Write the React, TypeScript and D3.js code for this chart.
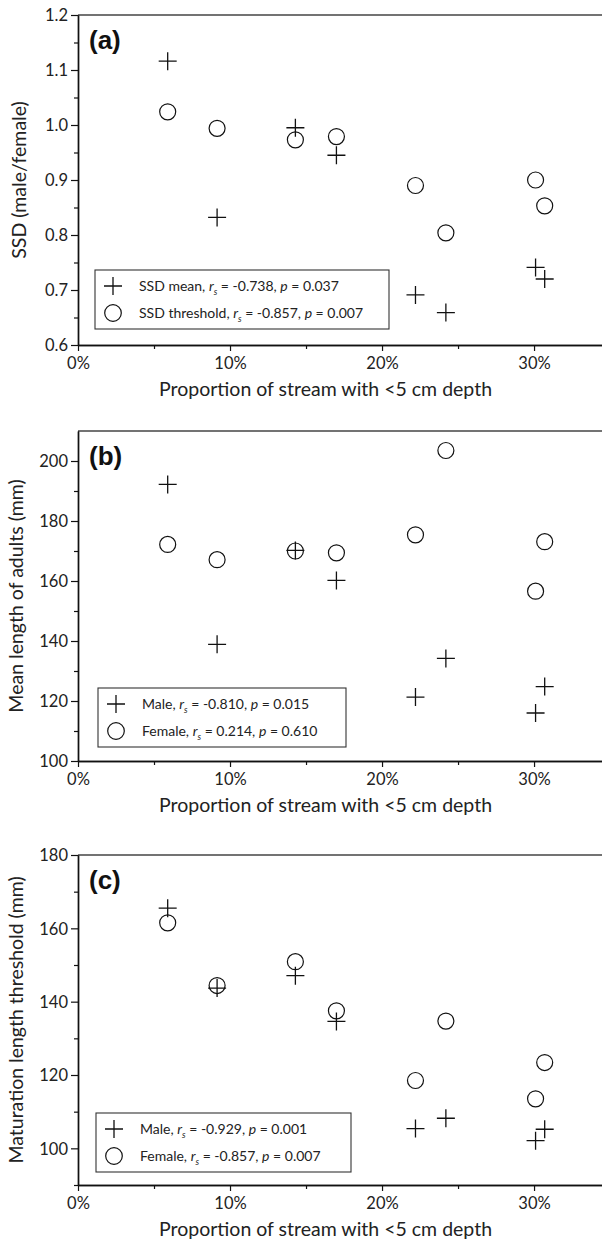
import React, { useEffect, useRef } from 'react'
import * as d3 from 'd3'

// proportion of stream with <5 cm depth (%), one per site
const depthPct = [5.9, 9.15, 14.3, 17.0, 22.2, 24.2, 30.1, 30.7]

// (a) sexual size dimorphism
const ssdMean = [1.116, 0.832, 0.995, 0.945, 0.691, 0.659, 0.741, 0.72]
const ssdThreshold = [1.024, 0.994, 0.973, 0.979, 0.89, 0.804, 0.9, 0.853]

// (b) mean length of adults (mm)
const maleMeanLength = [192.2, 138.9, 170.2, 160.2, 121.3, 134.2, 116.0, 124.8]
const femaleMeanLength = [172.2, 167.1, 170.0, 169.4, 175.4, 203.5, 156.6, 173.1]

// (c) maturation length threshold (mm)
const maleThreshold = [165.5, 143.7, 147.1, 134.6, 105.4, 108.2, 102.1, 105.2]
const femaleThreshold = [161.5, 144.4, 150.9, 137.5, 118.5, 134.7, 113.5, 123.4]

const xTicks = [0, 10, 20, 30]
const xMinorTicks = [5, 15, 25]

const panelLetters = ['(a)', '(b)', '(c)']
const yTitles = ['SSD (male/female)', 'Mean length of adults (mm)', 'Maturation length threshold (mm)']
const yDomains: [number, number][] = [[0.6, 1.2], [100, 210], [90, 180]]
const yTicks = [
  [0.6, 0.7, 0.8, 0.9, 1.0, 1.1, 1.2],
  [100, 120, 140, 160, 180, 200],
  [100, 120, 140, 160, 180],
]
const yMinorTicks = [
  [0.65, 0.75, 0.85, 0.95, 1.05, 1.15],
  [110, 130, 150, 170, 190],
  [90, 110, 130, 150, 170],
]
const yFormats = [d3.format('.1f'), d3.format('d'), d3.format('d')]

const legendNames = [
  ['SSD mean', 'SSD threshold'],
  ['Male', 'Female'],
  ['Male', 'Female'],
]
const legendRs = [
  ['-0.738', '-0.857'],
  ['-0.810', '0.214'],
  ['-0.929', '-0.857'],
]
const legendP = [
  ['0.037', '0.007'],
  ['0.015', '0.610'],
  ['0.001', '0.007'],
]

const plusSeries = [ssdMean, maleMeanLength, maleThreshold]
const circleSeries = [ssdThreshold, femaleMeanLength, femaleThreshold]

const W = 602
const H = 1245
const font = 'Lato, "Open Sans", sans-serif'

export default function App() {
  const ref = useRef<SVGSVGElement>(null)

  useEffect(() => {
    const svg = d3.select(ref.current)
    svg.selectAll('*').remove()

    const left = 78
    const plotH = 330
    const tops = [15, 431, 855]
    // legend boxes: [x, offset from panel top, width]
    const legendBoxes = [
      [95, 255, 294],
      [98, 257, 248],
      [96, 258, 255],
    ]

    const x = d3.scaleLinear().domain([0, 34.47]).range([left, W])

    tops.forEach((top, i) => {
      const g = svg.append('g')
      const bottom = top + plotH
      const y = d3.scaleLinear().domain(yDomains[i]).range([bottom, top])

      // top frame line
      g.append('line')
        .attr('x1', left).attr('x2', W)
        .attr('y1', top).attr('y2', top)
        .attr('stroke', '#444').attr('stroke-width', 1.4)

      // minor ticks first
      g.append('g')
        .attr('transform', `translate(${left},0)`)
        .call(d3.axisLeft(y).tickValues(yMinorTicks[i]).tickSize(4).tickSizeOuter(0).tickFormat(() => ''))
      g.append('g')
        .attr('transform', `translate(0,${bottom})`)
        .call(d3.axisBottom(x).tickValues(xMinorTicks).tickSize(4).tickSizeOuter(0).tickFormat(() => ''))

      // major axes
      const ya = g.append('g')
        .attr('transform', `translate(${left},0)`)
        .call(d3.axisLeft(y).tickValues(yTicks[i]).tickSize(7).tickSizeOuter(0).tickFormat(d => yFormats[i](d as number)))
      ya.selectAll('text').attr('x', -10).attr('dy', '0.36em')
      const xa = g.append('g')
        .attr('transform', `translate(0,${bottom})`)
        .call(d3.axisBottom(x).tickValues(xTicks).tickSize(6).tickSizeOuter(0).tickFormat(d => `${d}%`))
      xa.selectAll('text').attr('y', 12).attr('dy', '0.71em')

      g.selectAll('.domain').attr('stroke', '#111').attr('stroke-width', 1.4)
      g.selectAll('.tick line').attr('stroke', '#111').attr('stroke-width', 1.2)
      g.selectAll('.tick text')
        .attr('font-family', font).attr('font-size', 16.5).attr('fill', '#222')

      // axis titles
      g.append('text')
        .attr('x', 325.5)
        .attr('y', bottom + 51)
        .attr('text-anchor', 'middle')
        .attr('font-family', font).attr('font-size', 19.5).attr('fill', '#222')
        .text('Proportion of stream with <5 cm depth')
      g.append('text')
        .attr('transform', `translate(${i === 0 ? 26 : 23},${top + plotH / 2}) rotate(-90)`)
        .attr('text-anchor', 'middle')
        .attr('font-family', font).attr('font-size', 19.5).attr('fill', '#222')
        .text(yTitles[i])

      // panel letter
      g.append('text')
        .attr('x', 89).attr('y', top + 34)
        .attr('font-family', '"Liberation Sans", Arial, sans-serif')
        .attr('font-weight', 'bold').attr('font-size', 26).attr('fill', '#111')
        .text(panelLetters[i])

      const plus = (sel: any, arm: number) =>
        sel.append('path')
          .attr('d', `M${-arm},0H${arm}M0,${-arm}V${arm}`)
          .attr('stroke', '#111').attr('stroke-width', 1.3).attr('fill', 'none')

      // circles
      g.append('g').selectAll('circle')
        .data(circleSeries[i])
        .enter().append('circle')
        .attr('cx', (_d, j) => x(depthPct[j]))
        .attr('cy', d => y(d))
        .attr('r', 8)
        .attr('fill', 'none').attr('stroke', '#111').attr('stroke-width', 1.2)

      // plus markers
      const pg = g.append('g').selectAll('g')
        .data(plusSeries[i])
        .enter().append('g')
        .attr('transform', (d, j) => `translate(${x(depthPct[j])},${y(d)})`)
      plus(pg, 9)

      // legend
      const [bx, boff, bw] = legendBoxes[i]
      const by = top + boff
      g.append('rect')
        .attr('x', bx).attr('y', by).attr('width', bw).attr('height', 59)
        .attr('fill', 'white').attr('stroke', '#333').attr('stroke-width', 1.1)
      ;[0, 1].forEach(r => {
        const cy = by + 16 + r * 27
        const mx = bx + 18
        if (r === 0) {
          plus(g.append('g').attr('transform', `translate(${mx},${cy})`), 9)
        } else {
          g.append('circle').attr('cx', mx).attr('cy', cy).attr('r', 8.3)
            .attr('fill', 'none').attr('stroke', '#111').attr('stroke-width', 1.2)
        }
        const t = g.append('text')
          .attr('x', bx + 44).attr('y', cy).attr('dy', '0.36em')
          .attr('font-family', font).attr('font-size', 14).attr('fill', '#222')
        t.append('tspan').text(`${legendNames[i][r]}, `)
        t.append('tspan').attr('font-style', 'italic').text('r')
        t.append('tspan').attr('font-style', 'italic').attr('font-size', 9).attr('dy', 4).text('s')
        t.append('tspan').attr('dy', -4).text(` = ${legendRs[i][r]}, `)
        t.append('tspan').attr('font-style', 'italic').text('p')
        t.append('tspan').text(` = ${legendP[i][r]}`)
      })
    })
  }, [])

  return (
    <svg ref={ref} width={W} height={H}
      style={{ position: 'absolute', left: 0, top: 0, background: 'white' }} />
  )
}
